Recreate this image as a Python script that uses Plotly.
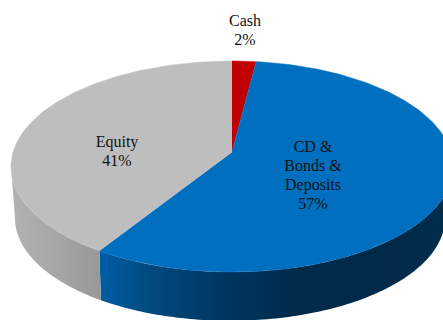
import math
import plotly.graph_objects as go

# Portfolio shares, clockwise from twelve o'clock
names = ["Cash", "CD &<br>Bonds &<br>Deposits", "Equity"]
shares = [2, 57, 41]
top_colors = ["#c00000", "#006fbf", "#bebebe"]

# Horizontal shading of the outer wall, as (pixel x, colour) stops
wall_stops = {
    "CD &<br>Bonds &<br>Deposits": [(97, "#005fa6"), (150, "#004a80"), (222, "#003660"),
                                    (300, "#002a4a"), (400, "#002a48"), (445, "#002e4e")],
    "Equity": [(10, "#b2b2b2"), (50, "#a8a8a8"), (97, "#999999")],
}

# Label placement: (centre x, middle of first line y)
label_pos = {"Cash": (245, 22), "Equity": (117, 142.5), "CD &<br>Bonds &<br>Deposits": (313, 148)}
LINE_GAP = 19


def project(theta_deg, radius=1.0, drop=0.0, shrink=1.0, shift=0.0):
    """Perspective projection of a pie-plane point to pixels."""
    t = math.radians(theta_deg)
    X, Y = radius * math.sin(t), radius * math.cos(t)
    w = 1 + 0.1374 * Y
    return 232 + shift + shrink * 218.9 * X / w, 152 + drop - shrink * 103.5 * Y / w


def arc(a0, a1, **kw):
    n = max(4, int(abs(a1 - a0)))
    return [project(a0 + (a1 - a0) * i / n, **kw) for i in range(n + 1)]


fig = go.Figure()

# Angular extent of each slice
spans = []
start = 0.0
for s in shares:
    spans.append((start, start + s * 3.6))
    start += s * 3.6

# Outer wall of the slices that face the viewer, with a left-to-right gradient.
# The perspective puts the silhouette of the disc at about 98 and 262 degrees.
DROP, SHRINK, SHIFT = 52, 0.973, -2
for name, (a0, a1) in zip(names, spans):
    if name not in wall_stops:
        continue
    a0, a1 = max(a0, 98), min(a1, 262)
    pts = arc(a0, a1) + arc(a1, a0, drop=DROP, shrink=SHRINK, shift=SHIFT)
    stops = wall_stops[name]
    x0, x1 = stops[0][0], stops[-1][0]
    fig.add_trace(go.Scatter(
        x=[q[0] for q in pts], y=[q[1] for q in pts], mode="none", fill="toself",
        fillgradient=dict(type="horizontal", start=x0, stop=x1,
                          colorscale=[[(x - x0) / (x1 - x0), c] for x, c in stops]),
        hoverinfo="skip"))

# Top face
for name, col, (a0, a1) in zip(names, top_colors, spans):
    pts = [project(0, radius=0)] + arc(a0, a1)
    fig.add_trace(go.Scatter(x=[q[0] for q in pts], y=[q[1] for q in pts], fill="toself", fillcolor=col,
                             mode="lines", line=dict(color=col, width=0.5), hoverinfo="skip"))

# Category and percentage labels
for name, s in zip(names, shares):
    lines = name.split("<br>") + [f"{s}%"]
    x0, y0 = label_pos[name]
    fig.add_trace(go.Scatter(x=[x0] * len(lines), y=[y0 + i * LINE_GAP for i in range(len(lines))],
                             text=lines, mode="text", textposition="middle center",
                             textfont=dict(family="Liberation Serif", size=16, color="#111111"),
                             hoverinfo="skip"))

fig.update_layout(width=443, height=320, margin=dict(l=0, r=0, t=0, b=0), showlegend=False,
                  paper_bgcolor="white", plot_bgcolor="white",
                  xaxis=dict(range=[0, 443], visible=False, fixedrange=True),
                  yaxis=dict(range=[320, 0], visible=False, fixedrange=True))
fig.write_html("out.html", config={"displayModeBar": False})
